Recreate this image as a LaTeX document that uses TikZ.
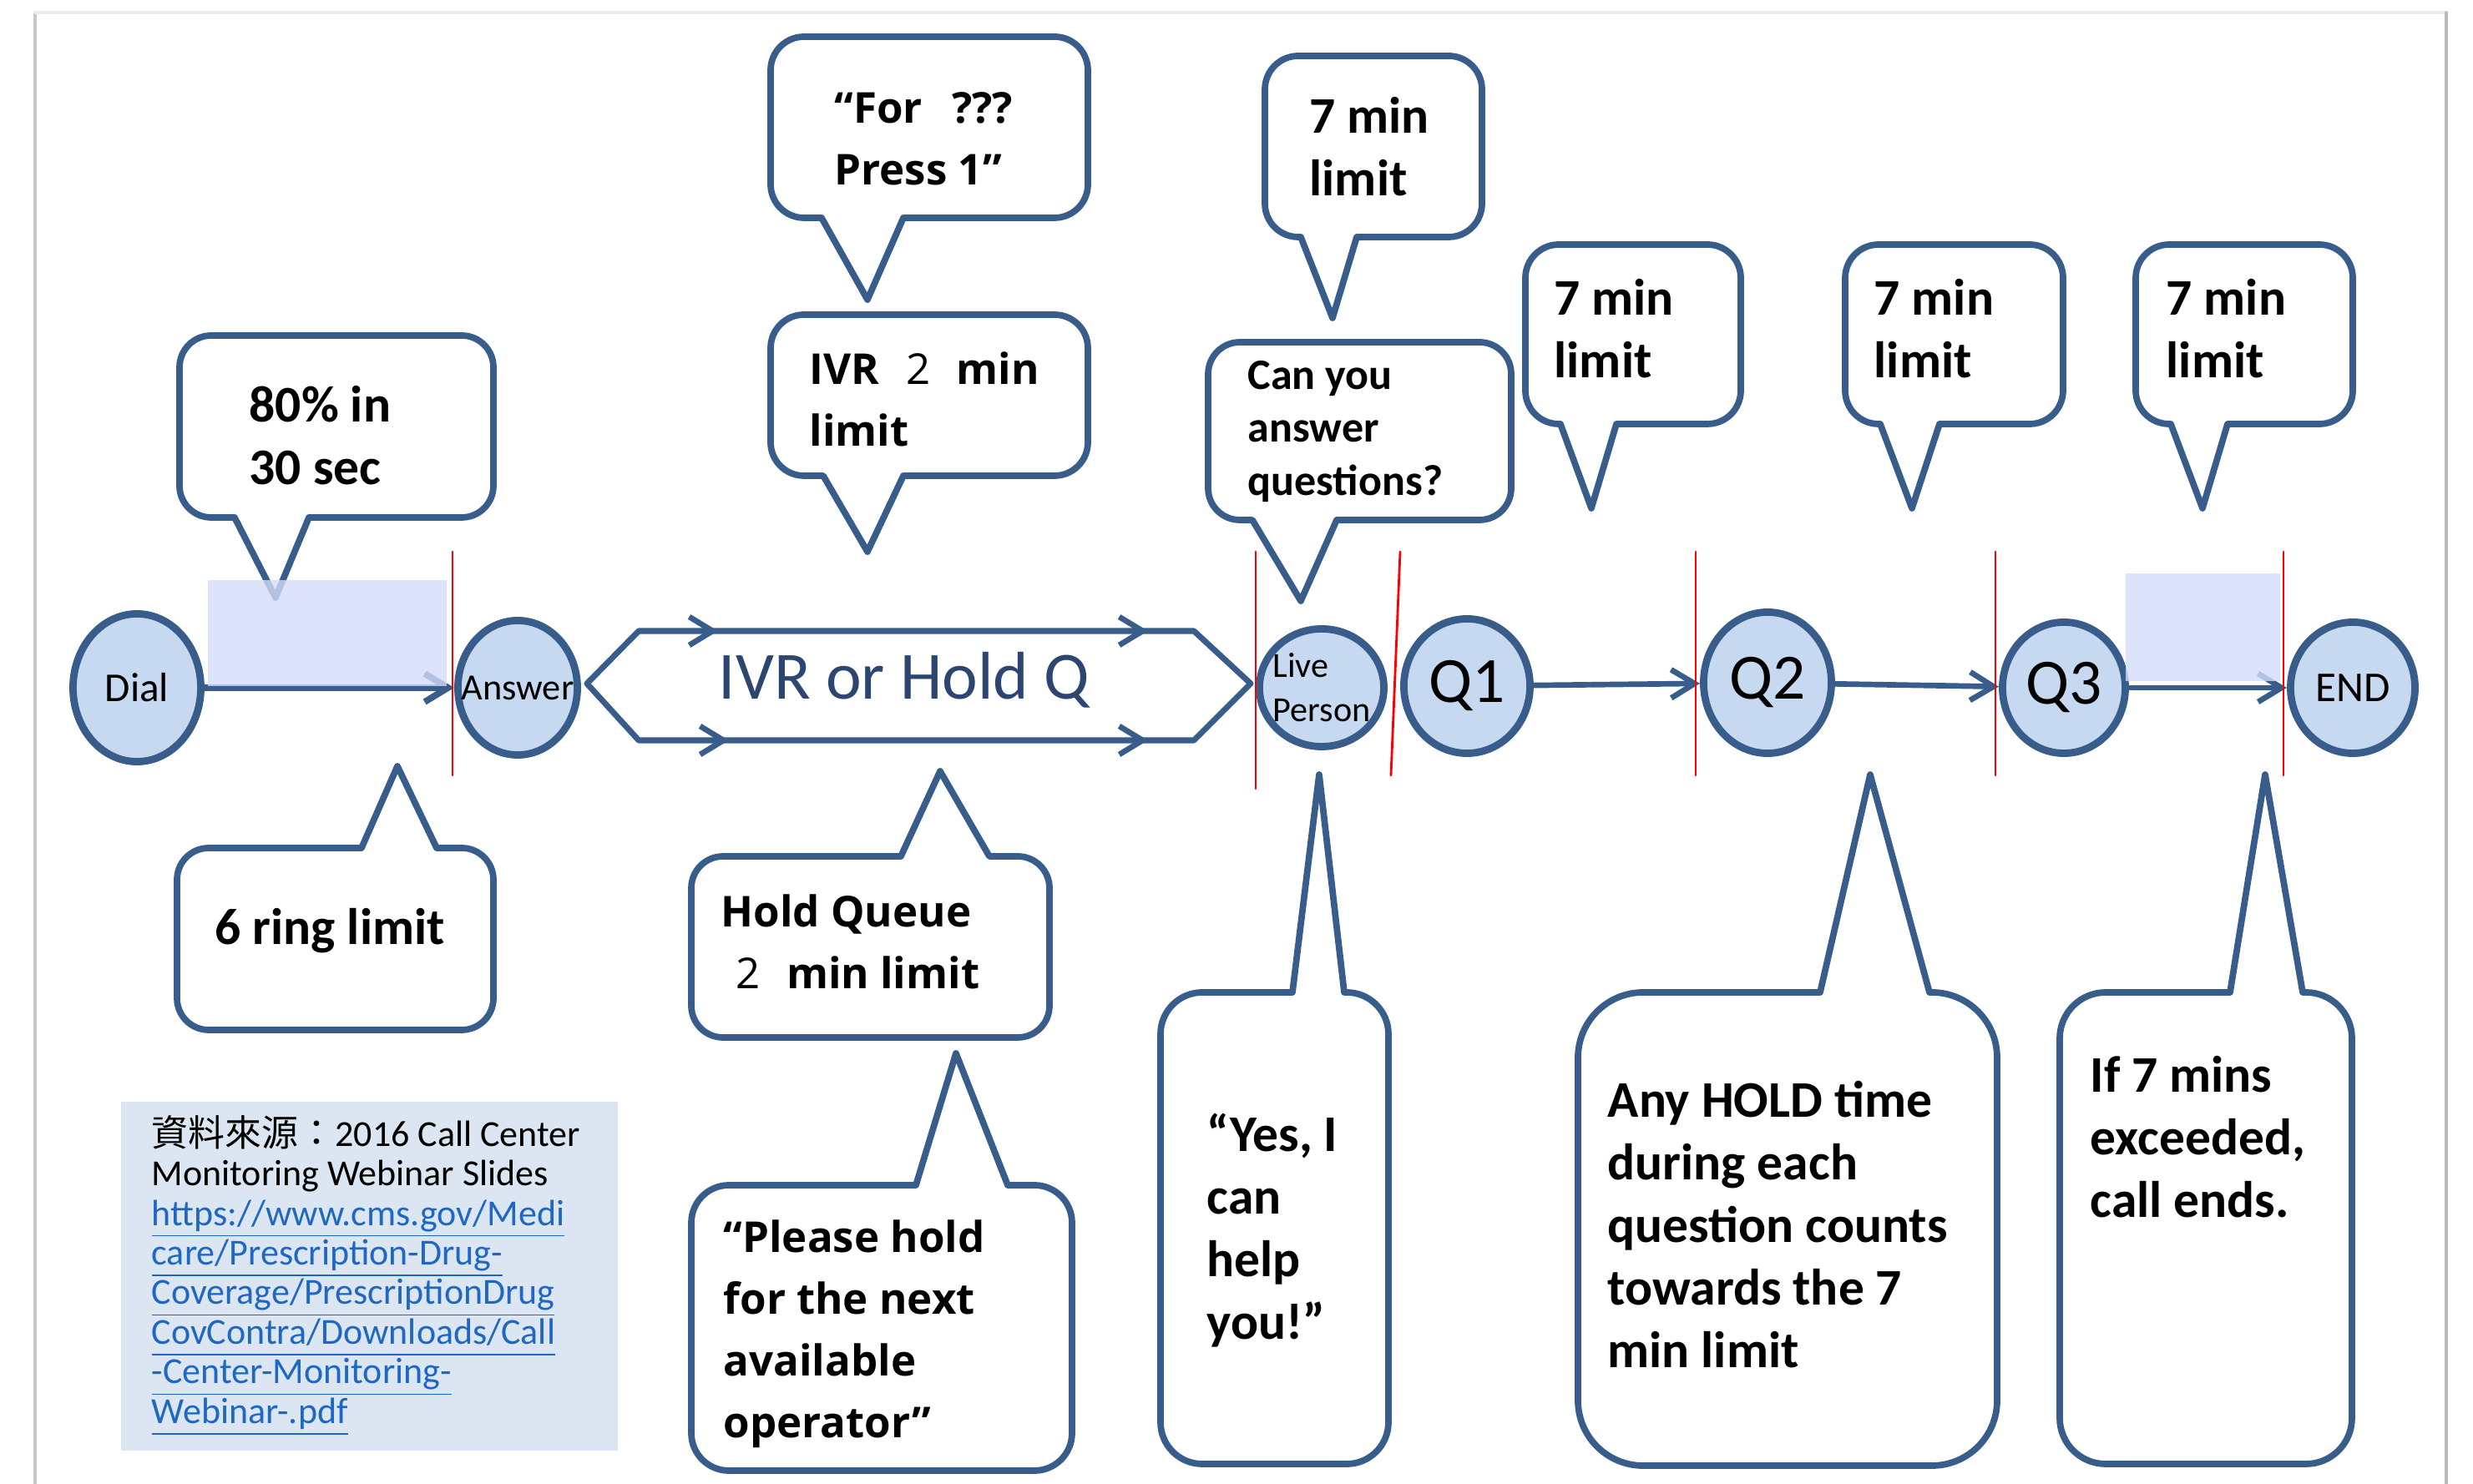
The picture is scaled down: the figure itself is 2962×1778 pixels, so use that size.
\documentclass[tikz,border=0pt]{standalone}
\usepackage{fontspec}
\setmainfont{Carlito}
\newfontfamily\opensans{Open Sans}
\newfontfamily\cjk{Noto Sans CJK TC}
\usetikzlibrary{shapes.geometric,arrows.meta}

\definecolor{edgeblue}{RGB}{56,93,138}
\definecolor{nodefill}{RGB}{198,217,241}
\definecolor{lavender}{RGB}{212,220,249}
\definecolor{srcfill}{RGB}{220,230,242}
\definecolor{linkblue}{RGB}{30,104,196}
\definecolor{ivrtext}{RGB}{45,70,112}

% callout: box x1,y1 (lower left), x2,y2 (upper right), pointer base b1,b2, tip tx,ty, radius
\newcommand{\calloutdown}[9]{%
  \draw[bubble] (#5,#2) -- (#7,#8) -- (#6,#2) -- ({#3-#9},#2) arc(-90:0:#9) -- (#3,{#4-#9}) arc(0:90:#9)
    -- ({#1+#9},#4) arc(90:180:#9) -- (#1,{#2+#9}) arc(180:270:#9) -- cycle;}
\newcommand{\calloutup}[9]{%
  \draw[bubble] (#5,#4) -- (#7,#8) -- (#6,#4) -- ({#3-#9},#4) arc(90:0:#9) -- (#3,{#2+#9}) arc(0:-90:#9)
    -- ({#1+#9},#2) arc(270:180:#9) -- (#1,{#4-#9}) arc(180:90:#9) -- cycle;}
\newcommand{\srclink}[1]{\textcolor{linkblue}{\underline{#1\vphantom{g}}}}

\begin{document}
\begin{tikzpicture}[x=0.01cm, y=0.01cm, line join=round, line cap=round,
  >={Straight Barb[length=2.8mm,width=3.4mm]},
  stage/.style={ellipse, draw=edgeblue, fill=nodefill, line width=2.5pt, inner sep=0pt},
  bubble/.style={draw=edgeblue, fill=white, line width=2.2pt},
  txt/.style={anchor=west, align=left, inner sep=0pt, font=\bfseries\fontsize{17.5}{21.3}\selectfont},
  quotetxt/.style={anchor=west, align=left, inner sep=0pt, font=\opensans\bfseries\fontsize{14.5}{21}\selectfont},
  flow/.style={draw=edgeblue, line width=1.9pt, ->},
  redmark/.style={draw=red, line width=0.8pt},
  lavbox/.style={fill=lavender, fill opacity=0.8}]
  \useasboundingbox (0,0) rectangle (2962,1778);
  % frame
  \draw[gray!45, line width=1pt] (42,0) -- (42,1763);
  \draw[gray!15, line width=1pt] (42,1763) -- (2930,1763);
  \draw[gray!55, line width=1pt] (2930,1763) -- (2930,0);

  % callouts
  \calloutdown{215}{1158}{591}{1376}{281}{370}{330}{1062}{38}
  \calloutup{212}{544}{591}{762}{433}{523}{476}{860}{38}
  \calloutdown{923}{1517}{1303}{1734}{984}{1082}{1039}{1419}{40}
  \calloutdown{923}{1208}{1303}{1401}{986}{1082}{1039}{1117}{40}
  \calloutup{828}{535}{1257}{752}{1079}{1185}{1126}{854}{38}
  \calloutup{828}{16}{1284}{358}{1097}{1207}{1145}{516}{45}
  \calloutdown{1447}{1155}{1810}{1368}{1500}{1601}{1558}{1058}{38}
  \calloutdown{1515}{1494}{1775}{1711}{1558}{1625}{1596}{1397}{40}
  \calloutdown{1827}{1270}{2085}{1485}{1869}{1936}{1906}{1169}{40}
  \calloutdown{2210}{1270}{2471}{1485}{2252}{2323}{2290}{1169}{40}
  \calloutdown{2558}{1270}{2818}{1485}{2600}{2668}{2638}{1169}{40}
  \calloutup{1390}{24}{1663}{589}{1548}{1610}{1580}{850}{50}
  \calloutup{1890}{22}{2392}{589}{2180}{2311}{2240}{850}{78}
  \calloutup{2467}{24}{2817}{589}{2671}{2758}{2713}{850}{55}

  \node[txt] (t80) at (298,1256) {80\% in\\30 sec};
  \node[txt] (tring) at (257,663) {6 ring limit};
  \node[quotetxt] (tfor) at (999,1612) {“For\hspace{10pt}???\\Press 1”};
  \node[quotetxt] (tivr) at (969,1300) {IVR\hspace{9pt}{\mdseries 2}\hspace{9pt}min\\limit};
  \node[quotetxt] (thold) at (863,650) {Hold Queue\\\hspace{5pt}{\mdseries 2}\hspace{9pt}min limit};
  \node[quotetxt] (tplease) at (866,180) {“Please hold\\for the next\\available\\operator”};
  \node[txt, font=\bfseries\fontsize{14.8}{18}\selectfont] (tcan) at (1494,1261) {Can you\\answer\\questions?};
  \node[txt] (t7a) at (1568,1602) {7 min\\limit};
  \node[txt] (t7b) at (1861,1384) {7 min\\limit};
  \node[txt] (t7c) at (2244,1384) {7 min\\limit};
  \node[txt] (t7d) at (2594,1384) {7 min\\limit};
  \node[txt] (tyes) at (1445,304) {“Yes, I\\can\\help\\you!”};
  \node[txt] (tany) at (1925,311) {Any HOLD time\\during each\\question counts\\towards the 7\\min limit};
  \node[txt] (tif) at (2503,416) {If 7 mins\\exceeded,\\call ends.};

  % source box
  \fill[srcfill] (145,40) rectangle (740,458);
  \node[anchor=west, align=left, inner sep=0pt, font=\fontsize{12.5}{13.5}\selectfont] (src) at (181,250)
    {{\cjk 資料來源：}2016 Call Center\\Monitoring Webinar Slides\\
     \srclink{https://www.cms.gov/Medi}\\\srclink{care/Prescription-Drug-}\\
     \srclink{Coverage/PrescriptionDrug}\\\srclink{CovContra/Downloads/Call}\\
     \srclink{-Center-Monitoring-}\\\srclink{Webinar-.pdf}};

  % call stages
  \node[stage, minimum width=1.53cm, minimum height=1.77cm, font=\fontsize{14}{16}\selectfont] (dial) at (164,954) {Dial};
  \node[stage, minimum width=1.43cm, minimum height=1.61cm,
        label={[font=\fontsize{12.6}{14}\selectfont]center:Answer}] (answer) at (620,954) {};
  \node[stage, minimum width=1.49cm, minimum height=1.41cm,
        label={[align=left, font=\fontsize{12}{15}\selectfont]center:Live\\Person}] (live) at (1583,954) {};
  \node[stage, minimum width=1.51cm, minimum height=1.61cm, font=\fontsize{22}{24}\selectfont] (q1) at (1757,956) {Q1};
  \node[stage, minimum width=1.53cm, minimum height=1.69cm, font=\fontsize{22}{24}\selectfont] (q2) at (2117,960) {Q2};
  \node[stage, minimum width=1.47cm, minimum height=1.57cm, font=\fontsize{22}{24}\selectfont] (q3) at (2472,954) {Q3};
  \node[stage, minimum width=1.49cm, minimum height=1.57cm, font=\fontsize{14.5}{16}\selectfont] (end) at (2818,954) {\raisebox{-5pt}{END}};

  \draw[flow, line width=2.2pt] (dial) -- (answer);
  \draw[flow] (q1) -- (q2);
  \draw[flow] (q2) -- (q3);
  \draw[flow] (q3) -- (end);

  % IVR / hold queue band
  \draw[edgeblue, line width=2pt] (703,959) -- (765,1022) -- (1430,1022) -- (1498,959) -- (1430,891) -- (765,891) -- cycle;
  \foreach \tipx/\tipy in {860/1022, 1375/1022, 873/891, 1375/891}
    \draw[flow] (\tipx-20,\tipy) -- (\tipx,\tipy);
  \node[font=\fontsize{23}{26}\selectfont, text=ivrtext] (ivr) at (1083,963) {IVR or Hold Q};

  % time windows
  \fill[lavbox] (249,956) rectangle (535,1083);
  \fill[lavbox] (2546,962) rectangle (2731,1091);
  \foreach \cx in {542, 2031, 2390, 2735}
    \draw[redmark] (\cx,1117) -- (\cx,849);
  \draw[redmark] (1504,1117) -- (1504,833);
  \draw[redmark] (1677,1117) -- (1666,849);
\end{tikzpicture}
\end{document}
